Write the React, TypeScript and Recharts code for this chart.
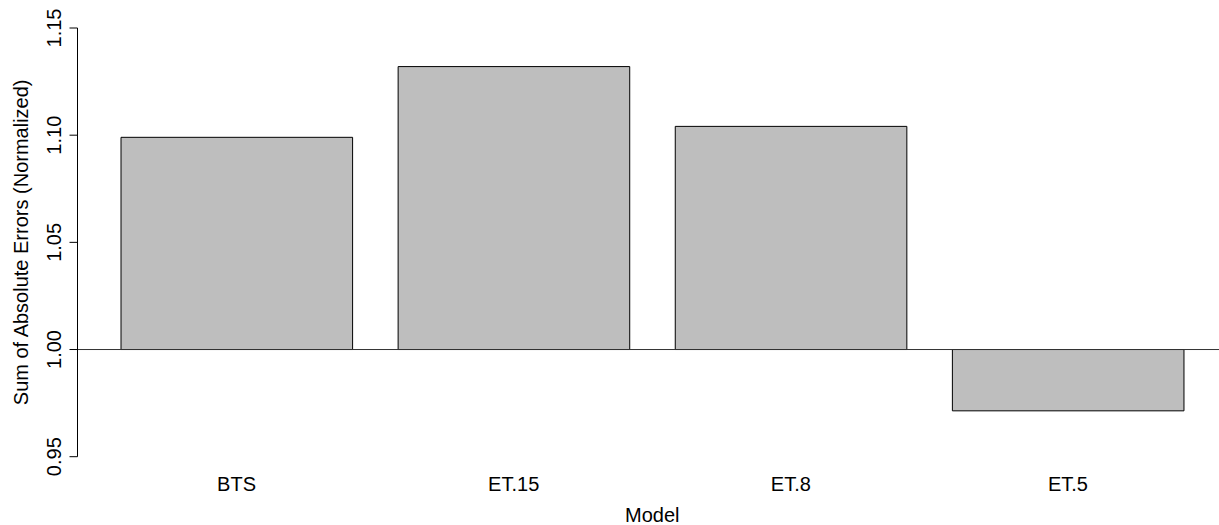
import React from "react";
import { BarChart, Bar, XAxis, YAxis, ReferenceLine } from "recharts";

// Model names along the x axis
const models = ["BTS", "ET.15", "ET.8", "ET.5"];
// Sum of absolute errors, normalized to the reference model (1.00)
const errors = [1.099, 1.132, 1.1041, 0.9714];
// Y axis tick values
const yTicks = [0.95, 1.0, 1.05, 1.1, 1.15];
const baseline = 1.0;

const data = models.map((m, i) => ({
  model: m,
  range: [Math.min(baseline, errors[i]), Math.max(baseline, errors[i])],
}));

const FONT = "'Liberation Sans', Arial, Helvetica, sans-serif";
const FONT_SIZE = 20;

const XTick = (props: any) => {
  const { x, y, payload } = props;
  return (
    <text
      x={x}
      y={y + 34.3}
      textAnchor="middle"
      fontFamily={FONT}
      fontSize={FONT_SIZE}
      fill="#000"
    >
      {payload.value}
    </text>
  );
};

const YTick = (props: any) => {
  const { x, y, payload } = props;
  return (
    <text
      x={x}
      y={y}
      transform={`rotate(-90, ${x}, ${y})`}
      textAnchor="middle"
      fontFamily={FONT}
      fontSize={FONT_SIZE}
      fill="#000"
    >
      {Number(payload.value).toFixed(2)}
    </text>
  );
};

const XTitle = (props: any) => {
  const vb = props.viewBox || { x: 77.5, y: 456.7, width: 1149.5, height: 68.3 };
  const cx = vb.x + vb.width / 2;
  return (
    <text
      x={cx}
      y={vb.y + 65}
      textAnchor="middle"
      fontFamily={FONT}
      fontSize={FONT_SIZE}
      fill="#000"
    >
      Model
    </text>
  );
};

const YTitle = (props: any) => {
  const vb = props.viewBox || { x: 0, y: 28, width: 77.5, height: 428.7 };
  const cy = vb.y + vb.height / 2;
  const x = 28;
  return (
    <text
      x={x}
      y={cy}
      transform={`rotate(-90, ${x}, ${cy})`}
      textAnchor="middle"
      fontFamily={FONT}
      fontSize={FONT_SIZE}
      fill="#000"
    >
      Sum of Absolute Errors (Normalized)
    </text>
  );
};

export default function App() {
  return (
    <div
      style={{
        position: "fixed",
        left: 0,
        top: 0,
        width: 1219,
        height: 525,
        overflow: "hidden",
        background: "#fff",
      }}
    >
      <BarChart
        width={1227}
        height={525}
        data={data}
        margin={{ top: 28, right: 0, bottom: 0, left: 0 }}
      >
        <XAxis
          dataKey="model"
          type="category"
          height={68.3}
          padding={{ left: 20.5, right: 20.5 }}
          axisLine={false}
          tickLine={false}
          tickSize={0}
          tickMargin={0}
          tick={<XTick />}
          interval={0}
          label={<XTitle />}
        />
        <YAxis
          type="number"
          domain={[0.95, 1.15]}
          ticks={yTicks}
          width={77.5}
          allowDataOverflow
          axisLine={{ stroke: "#000", strokeWidth: 1 }}
          tickLine={{ stroke: "#000", strokeWidth: 1 }}
          tickSize={8}
          tickMargin={8.5}
          tick={<YTick />}
          interval={0}
          label={<YTitle />}
        />
        <Bar
          dataKey="range"
          barSize={231.6}
          fill="#BEBEBE"
          stroke="#000"
          strokeWidth={1}
          isAnimationActive={false}
        />
        <ReferenceLine y={baseline} stroke="#333" strokeWidth={1} ifOverflow="visible" />
      </BarChart>
    </div>
  );
}
